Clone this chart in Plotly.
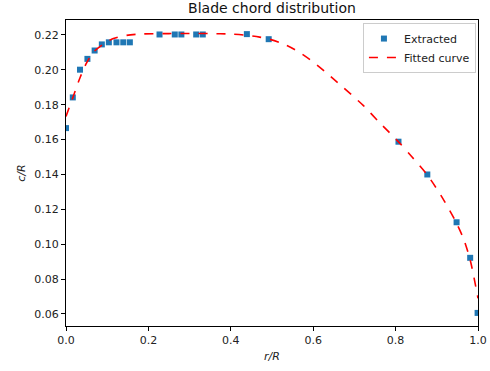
import plotly.graph_objects as go

# Extracted data
r_ext = [0.0, 0.0165, 0.034, 0.052, 0.0695, 0.087, 0.104, 0.1225, 0.139, 0.155,
         0.227, 0.264, 0.280, 0.316, 0.332, 0.439, 0.492, 0.807, 0.877, 0.948, 0.981, 0.999]
c_ext = [0.1666, 0.1842, 0.2001, 0.2063, 0.2111, 0.2146, 0.2158, 0.2158, 0.2158, 0.2158,
         0.2203, 0.2203, 0.2203, 0.2203, 0.2203, 0.2205, 0.2176, 0.1588, 0.1400, 0.1126, 0.0922, 0.0606]

# Fitted curve
r_fit = [0.0, 0.018, 0.034, 0.05, 0.066, 0.09, 0.115, 0.147, 0.187, 0.25, 0.3, 0.35,
         0.4, 0.44, 0.47, 0.495, 0.524, 0.56, 0.6, 0.641, 0.665, 0.722, 0.76, 0.806,
         0.84, 0.876, 0.91, 0.947, 0.965, 0.981, 1.0]
c_fit = [0.1733, 0.185, 0.1955, 0.204, 0.210, 0.2147, 0.218, 0.2198, 0.2206, 0.2208, 0.2209, 0.2208,
         0.2205, 0.2198, 0.2188, 0.2175, 0.2152, 0.2110, 0.2045, 0.1965, 0.1915, 0.1795, 0.1700, 0.1590,
         0.1500, 0.1400, 0.1280, 0.1125, 0.1030, 0.0910, 0.0690]

x_ticks = [0.0, 0.2, 0.4, 0.6, 0.8, 1.0]
y_ticks = [0.06, 0.08, 0.10, 0.12, 0.14, 0.16, 0.18, 0.20, 0.22]

fig = go.Figure()
fig.add_trace(go.Scatter(x=r_ext, y=c_ext, mode="markers", name="Extracted",
                         marker=dict(symbol="square", size=6, color="#1f77b4")))
fig.add_trace(go.Scatter(x=r_fit, y=c_fit, mode="lines", name="Fitted curve",
                         line=dict(color="red", dash="dash", width=1.6, shape="spline", smoothing=0.8)))

axis_common = dict(showline=True, linecolor="black", linewidth=1, mirror=True,
                   ticks="outside", ticklen=4, tickcolor="black", showgrid=False,
                   zeroline=False, automargin=False, tickfont=dict(size=11, color="#222"))

fig.update_layout(
    width=490, height=371,
    margin=dict(l=66, r=12, t=20, b=45, autoexpand=False),
    paper_bgcolor="white", plot_bgcolor="white",
    font=dict(family="DejaVu Sans", color="#222"),
    title=dict(text="Blade chord distribution", x=0.5, xref="paper", xanchor="center",
               y=1 - 8 / 371, yref="container", yanchor="middle", font=dict(size=14, color="#111"),
               automargin=False),
    xaxis=dict(range=[0, 1], tickvals=x_ticks, ticktext=[f"{v:.1f}" for v in x_ticks],
               title=dict(text="<i>r/R</i>", font=dict(size=11), standoff=6), **axis_common),
    yaxis=dict(range=[0.0531, 0.2286], tickvals=y_ticks, ticktext=[f"{v:.2f}" for v in y_ticks],
               title=dict(text="<i>c/R</i>", font=dict(size=11), standoff=6), **axis_common),
    legend=dict(x=0.995, y=0.99, xanchor="right", yanchor="top",
                bgcolor="rgba(255,255,255,0.8)", bordercolor="#cccccc", borderwidth=1,
                font=dict(size=11)),
    showlegend=True,
)

fig.write_html("out.html")
